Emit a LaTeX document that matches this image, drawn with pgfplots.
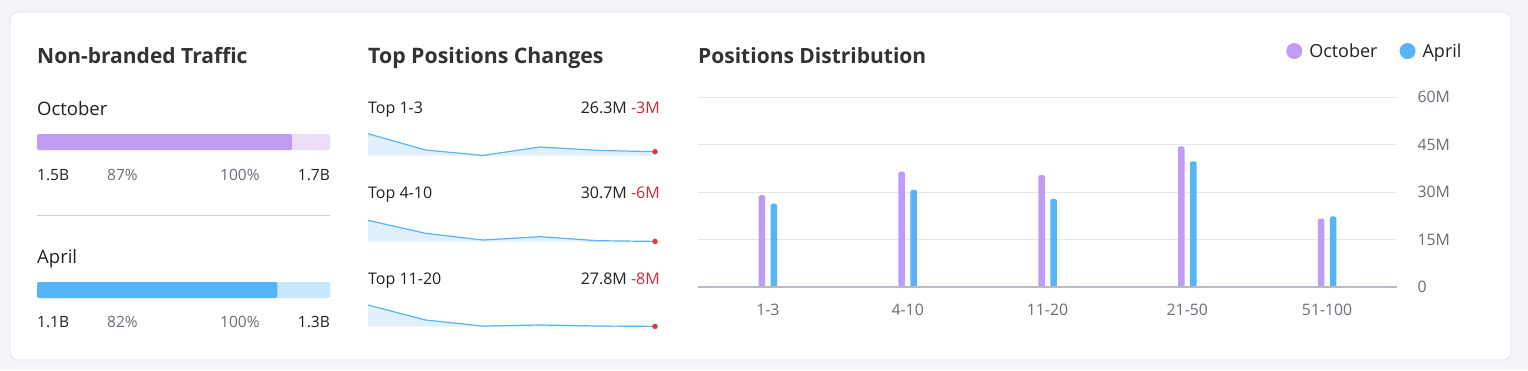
\documentclass[border=0pt]{standalone}
\usepackage{pgfplots}
\pgfplotsset{compat=1.18}
\usepackage{fontspec}
\setmainfont{Open Sans}
\definecolor{bgc}{HTML}{F4F5F9}
\definecolor{cardb}{HTML}{E3E5EA}
\definecolor{titlec}{HTML}{333333}
\definecolor{txtc}{HTML}{222222}
\definecolor{greyc}{HTML}{6C6E79}
\definecolor{octc}{HTML}{C09CF6}
\definecolor{octl}{HTML}{ECDDFB}
\definecolor{aprc}{HTML}{56B4F9}
\definecolor{aprl}{HTML}{C8E6FC}
\definecolor{divc}{HTML}{CDD0D5}
\definecolor{sparkc}{HTML}{5AB4F8}
\definecolor{sparkf}{HTML}{E2F0FC}
\definecolor{redc}{HTML}{D4283B}
\definecolor{dotc}{HTML}{E03A3A}
\definecolor{gridc}{HTML}{E6E7EB}
\definecolor{axisc}{HTML}{B8BBC2}
\newcommand{\fs}[1]{\fontsize{#1}{#1}\selectfont}
\pgfplotsset{
  progbar/.style={scale only axis, width=293pt, height=16pt, xmin=0, xmax=100,
    ymin=-0.5, ymax=0.5, hide axis, xbar, bar width=16pt, bar shift=0pt, anchor=south west},
  spark/.style={scale only axis, width=287pt, height=22pt, xmin=0, xmax=5,
    ymin=0, ymax=22, hide axis, clip=false, anchor=south west},
}
\begin{document}
\begin{tikzpicture}
\path[use as bounding box, fill=bgc] (0,0) rectangle (1528pt,-370pt);
\draw[fill=white, draw=cardb, line width=0.8pt, rounded corners=8pt] (10pt,-12pt) rectangle (1511pt,-360pt);

% ---------- Left panel ----------
\node[anchor=base west, inner sep=0, font=\fs{21}\bfseries, text=titlec] at (37pt,-63pt) {Non-branded Traffic};
\node[anchor=base west, inner sep=0, font=\fs{18.5}, text=txtc] at (37pt,-115pt) {October};
\begin{axis}[progbar, at={(37pt,-150pt)}]
\addplot[fill=octl, draw=none, rounded corners=2pt] coordinates {(100,0)};
\addplot[fill=octc, draw=none, rounded corners=2pt] coordinates {(87,0)};
\end{axis}
\node[anchor=base west, inner sep=0, font=\fs{15.5}, text=txtc] at (37pt,-180pt) {1.5B};
\node[anchor=base west, inner sep=0, font=\fs{15.5}, text=greyc] at (107pt,-180pt) {87\%};
\node[anchor=base west, inner sep=0, font=\fs{15.5}, text=greyc] at (220pt,-180pt) {100\%};
\node[anchor=base east, inner sep=0, font=\fs{15.5}, text=txtc] at (330pt,-180pt) {1.7B};
\draw[divc, line width=1pt] (37pt,-215pt) -- (330pt,-215pt);
\node[anchor=base west, inner sep=0, font=\fs{18.5}, text=txtc] at (37pt,-263pt) {April};
\begin{axis}[progbar, at={(37pt,-298pt)}]
\addplot[fill=aprl, draw=none, rounded corners=2pt] coordinates {(100,0)};
\addplot[fill=aprc, draw=none, rounded corners=2pt] coordinates {(82,0)};
\end{axis}
\node[anchor=base west, inner sep=0, font=\fs{15.5}, text=txtc] at (37pt,-327pt) {1.1B};
\node[anchor=base west, inner sep=0, font=\fs{15.5}, text=greyc] at (107pt,-327pt) {82\%};
\node[anchor=base west, inner sep=0, font=\fs{15.5}, text=greyc] at (220pt,-327pt) {100\%};
\node[anchor=base east, inner sep=0, font=\fs{15.5}, text=txtc] at (330pt,-327pt) {1.3B};

% ---------- Middle panel ----------
\node[anchor=base west, inner sep=0, font=\fs{21.3}\bfseries, text=titlec] at (368pt,-63pt) {Top Positions Changes};
\node[anchor=base west, inner sep=0, font=\fs{16}, text=txtc] at (368pt,-113pt) {Top 1-3};
\node[anchor=base east, inner sep=0, font=\fs{16}, text=txtc] at (660pt,-113pt) {26.3M \textcolor{redc}{-3M}};
\begin{axis}[spark, at={(368pt,-155.7pt)}]
\addplot[fill=sparkf, draw=none] coordinates {(0,22) (1,5.7) (2,0.3) (3,8.7) (4,5.3) (5,4)} \closedcycle;
\addplot[sparkc, line width=1.2pt] coordinates {(0,22) (1,5.7) (2,0.3) (3,8.7) (4,5.3) (5,4)};
\addplot[only marks, mark=*, mark size=2.5pt, dotc] coordinates {(5,4)};
\end{axis}
\node[anchor=base west, inner sep=0, font=\fs{16}, text=txtc] at (368pt,-198pt) {Top 4-10};
\node[anchor=base east, inner sep=0, font=\fs{16}, text=txtc] at (660pt,-198pt) {30.7M \textcolor{redc}{-6M}};
\begin{axis}[spark, at={(368pt,-241.7pt)}]
\addplot[fill=sparkf, draw=none] coordinates {(0,21.4) (1,8.4) (2,1.7) (3,5) (4,1) (5,0.3)} \closedcycle;
\addplot[sparkc, line width=1.2pt] coordinates {(0,21.4) (1,8.4) (2,1.7) (3,5) (4,1) (5,0.3)};
\addplot[only marks, mark=*, mark size=2.5pt, dotc] coordinates {(5,0.3)};
\end{axis}
\node[anchor=base west, inner sep=0, font=\fs{16}, text=txtc] at (368pt,-284pt) {Top 11-20};
\node[anchor=base east, inner sep=0, font=\fs{16}, text=txtc] at (660pt,-284pt) {27.8M \textcolor{redc}{-8M}};
\begin{axis}[spark, at={(368pt,-326.7pt)}]
\addplot[fill=sparkf, draw=none] coordinates {(0,21.7) (1,6.7) (2,0.7) (3,1.7) (4,0.7) (5,0.3)} \closedcycle;
\addplot[sparkc, line width=1.2pt] coordinates {(0,21.7) (1,6.7) (2,0.7) (3,1.7) (4,0.7) (5,0.3)};
\addplot[only marks, mark=*, mark size=2.5pt, dotc] coordinates {(5,0.3)};
\end{axis}

% ---------- Right panel ----------
\node[anchor=base west, inner sep=0, font=\fs{21}\bfseries, text=titlec] at (698pt,-63pt) {Positions Distribution};
\begin{axis}[
  at={(698pt,-287pt)}, anchor=south west,
  scale only axis, width=699pt, height=190pt,
  xmin=-0.5, xmax=4.5, ymin=0, ymax=60,
  xtick={0,1,2,3,4}, xticklabels={1-3,4-10,11-20,21-50,51-100},
  ytick={0,15,30,45,60}, yticklabels={0,15M,30M,45M,60M},
  yticklabel pos=right,
  axis line style={draw=none},
  tick style={draw=none},
  ymajorgrids, grid style={draw=gridc, line width=1pt},
  ybar, bar width=6.5pt,
  tick label style={font=\fs{15.8}, text=greyc},
  yticklabel style={anchor=west, xshift=17pt},
  xticklabel style={yshift=-9pt},
  legend style={at={(0.837,1.242)}, anchor=west, draw=none, fill=none,
    font=\fs{18}, text=txtc, legend columns=2,
    /tikz/every even column/.append style={column sep=20pt}},
  legend image code/.code={\fill[#1] (0pt,0pt) circle (8pt); \path (13pt,0pt);},
]
\addplot[fill=octc, draw=none, bar shift=-6pt, rounded corners=1.5pt] coordinates {(0,29.0) (1,36.4) (2,35.3) (3,44.4) (4,21.6)};
\addplot[fill=aprc, draw=none, bar shift=6pt, rounded corners=1.5pt] coordinates {(0,26.3) (1,30.7) (2,27.8) (3,39.7) (4,22.3)};
\legend{October, April}
\draw[axisc, line width=1.5pt] (axis cs:-0.5,0) -- (axis cs:4.5,0);
\end{axis}
\end{tikzpicture}
\end{document}
